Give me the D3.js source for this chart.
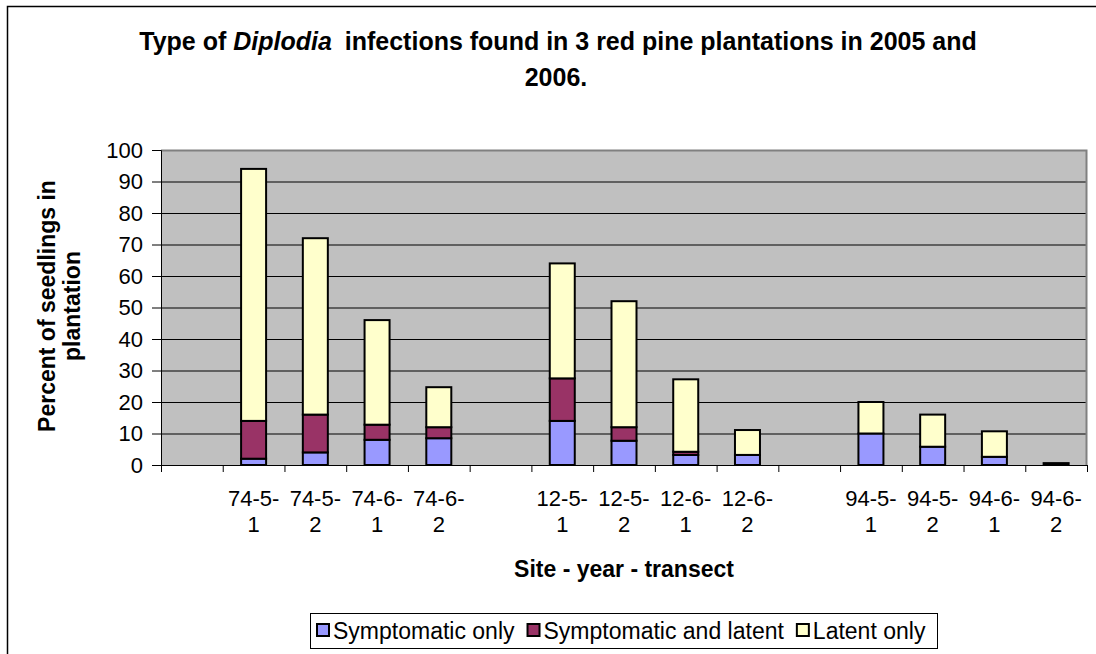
<!DOCTYPE html>
<html>
<head>
<meta charset="utf-8">
<script src="https://cdn.jsdelivr.net/npm/d3@7/dist/d3.min.js"></script>
<style>
  html, body { margin: 0; padding: 0; background: #fff; }
  svg { display: block; }
  text { font-family: "Liberation Sans", Arial, Helvetica, sans-serif; fill: #000; }
</style>
</head>
<body>
<svg id="chart" width="1096" height="654"></svg>
<script>
// ---- data ----
const categories = ["", "74-5-1", "74-5-2", "74-6-1", "74-6-2", "", "12-5-1", "12-5-2", "12-6-1", "12-6-2", "", "94-5-1", "94-5-2", "94-6-1", "94-6-2"];
const symptomaticOnly      = [0, 2, 4, 8, 8.5, 0, 14, 7.7, 3.2, 3.2, 0, 10, 5.8, 2.6, 0];
const symptomaticAndLatent = [0, 12, 12, 4.8, 3.5, 0, 13.5, 4.3, 1.0, 0, 0, 0, 0, 0, 0];
const latentOnly           = [0, 80, 56, 33.2, 12.7, 0, 36.5, 40, 23, 7.9, 0, 10, 10.2, 8.1, 0.6];
const seriesNames = ["Symptomatic only", "Symptomatic and latent", "Latent only"];
const seriesColors = ["#9999FF", "#993366", "#FFFFCC"];
const yTicks = [0, 10, 20, 30, 40, 50, 60, 70, 80, 90, 100];

const svg = d3.select("#chart");
const plot = {left: 161, right: 1087, top: 150, bottom: 465};

// outer chart border
svg.append("rect").attr("x", 7.5).attr("y", 6.5).attr("width", 1200).attr("height", 700)
  .attr("fill", "#fff").attr("stroke", "#000").attr("stroke-width", 1.5);

// title
const title = svg.append("text").attr("text-anchor", "middle")
  .attr("font-size", 25).attr("font-weight", "bold");
const t1 = title.append("tspan").attr("x", 558).attr("y", 50);
t1.append("tspan").text("Type of ");
t1.append("tspan").attr("font-style", "italic").text("Diplodia");
t1.append("tspan").attr("dx", 6).text(" infections found in 3 red pine plantations in 2005 and");
title.append("tspan").attr("x", 556).attr("y", 86).text("2006.");

// scales
const x = d3.scaleBand().domain(d3.range(categories.length))
  .range([plot.left, plot.right]).paddingInner(0.595).paddingOuter(0.2975);
const xEdge = d3.scaleLinear().domain([0, categories.length]).range([plot.left, plot.right]);
const y = d3.scaleLinear().domain([0, 100]).range([plot.bottom, plot.top]);

// plot background
svg.append("rect").attr("x", plot.left).attr("y", plot.top)
  .attr("width", plot.right - plot.left).attr("height", plot.bottom - plot.top)
  .attr("fill", "#C0C0C0");

// gridlines
svg.append("g").selectAll("line").data(yTicks.filter(d => d > 0 && d < 100)).join("line")
  .attr("x1", plot.left).attr("x2", plot.right)
  .attr("y1", d => y(d) + 0.5).attr("y2", d => y(d) + 0.5)
  .attr("stroke", "#000").attr("stroke-width", 1);

// plot top/right border (grey)
svg.append("path")
  .attr("d", `M${plot.left},${plot.top + 0.5} H${plot.right - 0.5} V${plot.bottom}`)
  .attr("fill", "none").attr("stroke", "#808080").attr("stroke-width", 2);

// stacked bars
const rows = categories.map((c, i) => ({i, cat: c,
  s0: symptomaticOnly[i], s1: symptomaticAndLatent[i], s2: latentOnly[i]}));
const stack = d3.stack().keys(["s0", "s1", "s2"])(rows);
const barG = svg.append("g");
stack.forEach((layer, k) => {
  barG.append("g").selectAll("rect")
    .data(layer.filter(d => d[1] - d[0] > 0))
    .join("rect")
    .attr("x", d => x(d.data.i))
    .attr("width", x.bandwidth())
    .attr("y", d => y(d[1]))
    .attr("height", d => y(d[0]) - y(d[1]))
    .attr("fill", seriesColors[k])
    .attr("stroke", "#000").attr("stroke-width", 2);
});

// y axis
const yAxis = svg.append("g").attr("transform", `translate(${plot.left},0)`)
  .call(d3.axisLeft(y).tickValues(yTicks).tickSize(9).tickPadding(9).tickFormat(d3.format("d")));
yAxis.select(".domain").attr("stroke", "#000").attr("stroke-width", 1);
yAxis.selectAll(".tick line").attr("stroke", "#000");
yAxis.selectAll("text").attr("font-size", 22).attr("font-family", "Liberation Sans, Arial, sans-serif");

// x axis: ticks at category boundaries
const xAxis = svg.append("g").attr("transform", `translate(0,${plot.bottom})`)
  .call(d3.axisBottom(xEdge).tickValues(d3.range(categories.length + 1)).tickSize(7).tickFormat(""));
xAxis.select(".domain").attr("stroke", "#000").attr("stroke-width", 1);
xAxis.selectAll(".tick line").attr("stroke", "#000");

// category labels (two lines)
const labG = svg.append("g");
categories.forEach((c, i) => {
  if (!c) return;
  const parts = c.split("-");
  const line1 = parts.slice(0, 2).join("-") + "-";
  const line2 = parts[2];
  const t = labG.append("text").attr("text-anchor", "middle").attr("font-size", 22);
  const cx = x(i) + x.bandwidth() / 2;
  t.append("tspan").attr("x", cx).attr("y", 506).text(line1);
  t.append("tspan").attr("x", cx).attr("y", 532).text(line2);
});

// axis titles
svg.append("text").attr("x", (plot.left + plot.right) / 2).attr("y", 577)
  .attr("text-anchor", "middle").attr("font-size", 23).attr("font-weight", "bold")
  .text("Site - year - transect");
const yt = svg.append("text").attr("text-anchor", "middle").attr("font-size", 23)
  .attr("font-weight", "bold").attr("transform", "translate(0,306) rotate(-90)");
yt.append("tspan").attr("x", 0).attr("y", 55).text("Percent of seedlings in");
yt.append("tspan").attr("x", 0).attr("y", 80).text("plantation");

// legend
const leg = svg.append("g");
leg.append("rect").attr("x", 310.5).attr("y", 613.5).attr("width", 627).attr("height", 35)
  .attr("fill", "#fff").attr("stroke", "#000").attr("stroke-width", 1);
let cursor = 317;
seriesNames.forEach((name, k) => {
  leg.append("rect").attr("x", cursor).attr("y", 624).attr("width", 12).attr("height", 12)
    .attr("fill", seriesColors[k]).attr("stroke", "#000").attr("stroke-width", 2);
  const tx = leg.append("text").attr("x", cursor + 16).attr("y", 639)
    .attr("font-size", 23).text(name);
  cursor = cursor + 16 + tx.node().getComputedTextLength() + 13;
});
</script>
</body>
</html>
